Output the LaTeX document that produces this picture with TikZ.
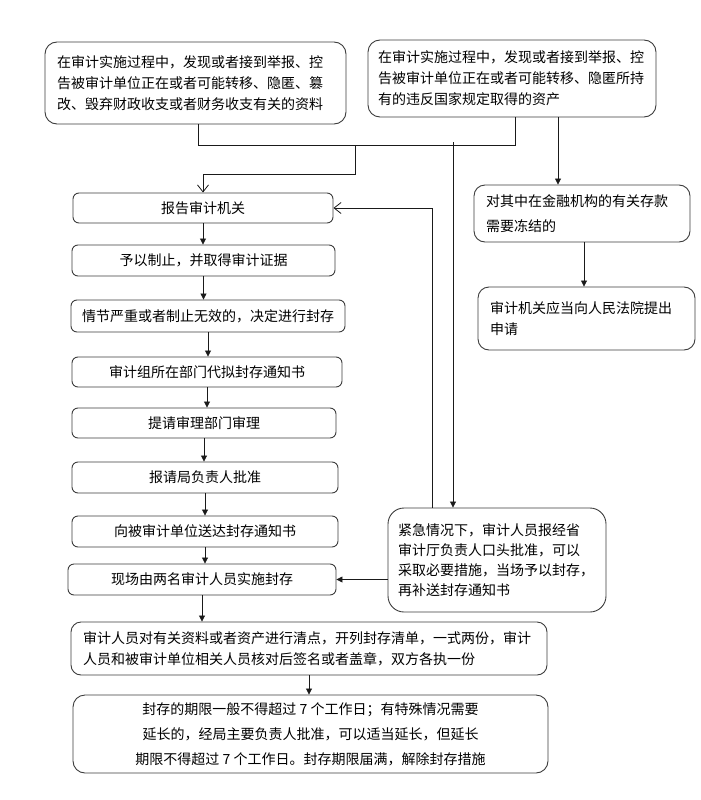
\documentclass[tikz,border=0pt]{standalone}
\usepackage{fontspec}
\newfontfamily\cjk{Noto Sans CJK SC}
\usepackage{tikz}
\usetikzlibrary{arrows.meta,positioning,calc}
\definecolor{flowLine}{HTML}{1A1A1A}
\definecolor{flowEdge}{HTML}{3C3C3C}

\begin{document}
\begin{tikzpicture}[x=1pt, y=-1pt,
  flowbox/.style={draw=flowEdge, line width=0.9pt, rounded corners=6pt, inner sep=0pt,
    font=\cjk\fontsize{14}{21}\selectfont, align=center},
  notebox/.style={draw=flowEdge, line width=0.9pt, rounded corners=11pt, inner ysep=0pt,
    inner xsep=12pt, font=\cjk\fontsize{14}{21}\selectfont, align=left},
  conn/.style={-{Triangle[length=6pt,width=6pt]}, line width=0.8pt, flowLine},
  merge/.style={-{Straight Barb[length=7pt,width=11pt]}, line width=0.8pt, flowLine},
  link/.style={line width=0.8pt, flowLine},
]
\useasboundingbox (0,0) rectangle (701,800);

% === Sources ===
\node[notebox, rounded corners=12pt, text width=277pt, minimum height=82pt] (src-doc) at (195.5,83)
  {在审计实施过程中，发现或者接到举报、控\\告被审计单位正在或者可能转移、隐匿、篡\\改、毁弃财政收支或者财务收支有关的资料};
\node[notebox, rounded corners=12pt, inner xsep=10pt, text width=268pt, minimum height=77pt] (src-asset) at (512,78.5)
  {在审计实施过程中，发现或者接到举报、控\\告被审计单位正在或者可能转移、隐匿所持\\有的违反国家规定取得的资产};

% === Main flow ===
\node[flowbox, minimum width=260pt, minimum height=30pt] (flow-report) at (203,208) {报告审计机关};
\node[flowbox, minimum width=263pt, minimum height=31pt] (flow-stop) at (203.5,260.5) {予以制止，并取得审计证据};
\node[flowbox, minimum width=274pt, minimum height=32pt] (flow-decide) at (208,316) {情节严重或者制止无效的，决定进行封存};
\node[flowbox, minimum width=270pt, minimum height=30pt] (flow-draft) at (207,372) {审计组所在部门代拟封存通知书};
\node[flowbox, minimum width=264pt, minimum height=30pt] (flow-review) at (204,423) {提请审理部门审理};
\node[flowbox, minimum width=266pt, minimum height=31pt] (flow-approve) at (205,477.5) {报请局负责人批准};
\node[flowbox, minimum width=266pt, minimum height=31pt] (flow-notice) at (205,531.5) {向被审计单位送达封存通知书};
\node[flowbox, minimum width=268pt, minimum height=31pt] (flow-seal) at (202,579.5) {现场由两名审计人员实施封存};
\node[notebox, rounded corners=10pt, text width=452pt, minimum height=53pt] (flow-count) at (309,648.5)
  {审计人员对有关资料或者资产进行清点，开列封存清单，一式两份，审计\\人员和被审计单位相关人员核对后签名或者盖章，双方各执一份};
\node[flowbox, rounded corners=12pt, minimum width=475pt, minimum height=78pt,
  font=\cjk\fontsize{14}{25}\selectfont] (flow-limit) at (310.5,734)
  {封存的期限一般不得超过 7 个工作日；有特殊情况需要\\延长的，经局主要负责人批准，可以适当延长，但延长\\期限不得超过 7 个工作日。封存期限届满，解除封存措施};

% === Right side ===
\node[notebox, text width=192pt, minimum height=57pt, font=\cjk\fontsize{14}{25}\selectfont] (flow-freeze) at (582,213.5)
  {对其中在金融机构的有关存款\\需要冻结的};
\node[notebox, text width=193pt, minimum height=63pt] (flow-court) at (586.5,318.5)
  {审计机关应当向人民法院提出\\申请};
\node[notebox, rounded corners=16pt, inner xsep=10pt, text width=198pt, minimum height=104pt,
  font=\cjk\fontsize{14}{20}\selectfont] (flow-urgent) at (497,560)
  {紧急情况下，审计人员报经省\\审计厅负责人口头批准，可以\\采取必要措施，当场予以封存，\\再补送封存通知书};

% === Connectors ===
\coordinate (j-doc) at (198,145);
\coordinate (j-asset) at (515,145);
\coordinate (j-mid) at (355,145);
\coordinate (j-turn) at (355,174);
\draw[link] (src-doc.south -| j-doc) -- (j-doc) -- (j-asset) -- (src-asset.south -| j-asset);
\draw[merge] (j-mid) -- (j-turn) -| (flow-report.north);

\coordinate (j-freeze) at (558,0);
\coordinate (j-court) at (584,0);
\draw[conn] (src-asset.south -| j-freeze) -- (flow-freeze.north -| j-freeze);
\draw[conn] (flow-freeze.south -| j-court) -- (flow-court.north -| j-court);

\coordinate (j-down) at (453,142);
\coordinate (j-back) at (432,0);
\draw[conn] (j-down) -- (j-down |- flow-urgent.north);
\draw[merge] (flow-urgent.north -| j-back) |- (flow-report.east);
\draw[conn] (flow-urgent.west |- flow-seal.east) -- (flow-seal.east);

\foreach \a/\b in {report/stop, stop/decide, decide/draft, draft/review,
  review/approve, approve/notice, notice/seal, seal/count, count/limit} {
  \draw[conn] (flow-\a.south) -- (flow-\a.south |- flow-\b.north);
}

\end{tikzpicture}
\end{document}
